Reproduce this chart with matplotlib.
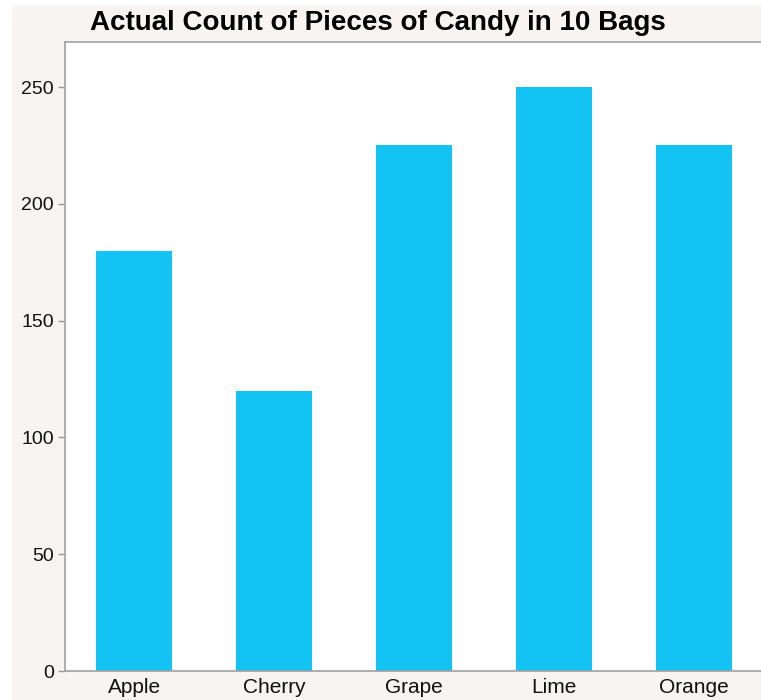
import matplotlib
matplotlib.use("Agg")
import matplotlib.pyplot as plt
from matplotlib.patches import Rectangle

categories = ["Apple", "Cherry", "Grape", "Lime", "Orange"]
counts = [180, 120, 225, 250, 225]
yticks = [0, 50, 100, 150, 200, 250]

plt.rcParams['font.family'] = ['Liberation Sans', 'DejaVu Sans']

W, H = 761, 700
fig = plt.figure(figsize=(W / 100, H / 100), dpi=100)
fig.patch.set_facecolor("white")
fig.patches.append(Rectangle((12 / W, 0), 1 - 12 / W, 1 - 5 / H,
                             transform=fig.transFigure, facecolor="#f7f4f1",
                             edgecolor="none", zorder=-10))

ax = fig.add_axes([65 / W, 1 - 671 / H, 699 / W, (671 - 42) / H])
ax.set_facecolor("white")
x = list(range(len(categories)))
ax.bar(x, counts, width=0.543, color="#12c3f4", zorder=2)
ax.set_xlim(-0.493, 4.5)
ax.set_ylim(0, 269.3)
ax.set_xticks(x)
ax.set_xticklabels(categories)
ax.set_yticks(yticks)
ax.tick_params(axis="x", length=0, pad=5, labelsize=15, labelcolor="#111111")
ax.tick_params(axis="y", length=5, width=1, color="#999999", pad=3,
               labelsize=14, labelcolor="#111111")
for s in ["right"]:
    ax.spines[s].set_visible(False)
for s in ["left", "top", "bottom"]:
    ax.spines[s].set_color("#a0a0a0")
    ax.spines[s].set_linewidth(1.2)

fig.text(0.497, 1 - 23 / H, "Actual Count of Pieces of Candy in 10 Bags",
         ha="center", va="center", fontsize=20, fontweight="bold", color="#000000")

fig.savefig("out.png", dpi=100, facecolor=fig.get_facecolor())
